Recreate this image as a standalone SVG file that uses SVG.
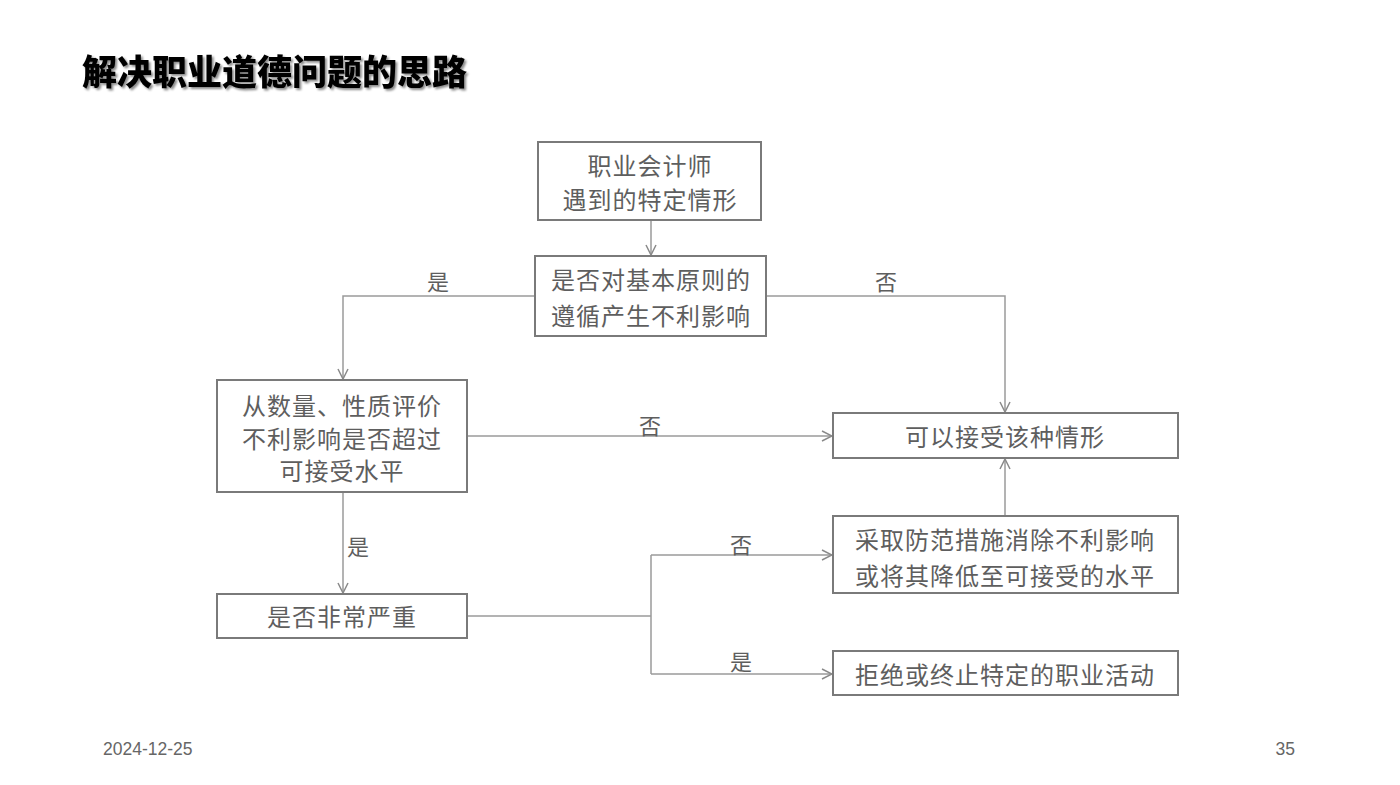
<svg xmlns="http://www.w3.org/2000/svg" width="1400" height="785" viewBox="0 0 1400 785">
<style>
.bx{fill:#fff;stroke:#7a7a7a;stroke-width:2}
.t{font-family:"Noto Sans CJK SC","Noto Sans",sans-serif;font-size:24px;fill:#5e5e5e;text-anchor:middle;dominant-baseline:central;letter-spacing:1px}
.lb{font-family:"Noto Sans CJK SC","Noto Sans",sans-serif;font-size:22px;fill:#5e5e5e;text-anchor:middle;dominant-baseline:central}
.ln{fill:none;stroke:#9a9a9a;stroke-width:1.5}
.title{font-family:"Noto Sans CJK SC","Noto Sans",sans-serif;font-size:35px;font-weight:900;fill:#000}
.ft{font-family:"Liberation Sans",Arial,sans-serif;font-size:17.5px;fill:#666}
</style>
<defs>
<marker id="ar" viewBox="0 0 12 12" refX="11" refY="6" markerWidth="12" markerHeight="12" markerUnits="userSpaceOnUse" orient="auto">
<polyline points="1,1 11,6 1,11" fill="none" stroke="#8a8a8a" stroke-width="1.5"/>
</marker>
<filter id="sh" x="-5%" y="-20%" width="110%" height="140%">
<feDropShadow dx="2" dy="2" stdDeviation="1.2" flood-color="#000" flood-opacity="0.45"/>
</filter>
</defs>
<rect width="1400" height="785" fill="#fff"/>
<text class="title" x="82" y="85" filter="url(#sh)">解决职业道德问题的思路</text>

<g id="connectors">
<line class="ln" x1="651" y1="220" x2="651" y2="255" marker-end="url(#ar)"/>
<polyline class="ln" points="535,296 343,296 343,379" marker-end="url(#ar)"/>
<polyline class="ln" points="766,296 1005,296 1005,412" marker-end="url(#ar)"/>
<line class="ln" x1="467" y1="436" x2="832" y2="436" marker-end="url(#ar)"/>
<line class="ln" x1="343" y1="492" x2="343" y2="593" marker-end="url(#ar)"/>
<polyline class="ln" points="467,616 651,616"/>
<polyline class="ln" points="651,555 651,674"/>
<line class="ln" x1="651" y1="555" x2="832" y2="555" marker-end="url(#ar)"/>
<line class="ln" x1="651" y1="674" x2="832" y2="674" marker-end="url(#ar)"/>
<line class="ln" x1="1005" y1="516" x2="1005" y2="459" marker-end="url(#ar)"/>
<text class="lb" x="438" y="280">是</text>
<text class="lb" x="886" y="280">否</text>
<text class="lb" x="650" y="424">否</text>
<text class="lb" x="358" y="545">是</text>
<text class="lb" x="741" y="543">否</text>
<text class="lb" x="741" y="660">是</text>
</g>

<g id="n1">
<rect class="bx" x="538" y="142" width="223" height="78"/>
<text class="t" x="650" y="164">职业会计师</text>
<text class="t" x="650" y="198">遇到的特定情形</text>
</g>
<g id="n2">
<rect class="bx" x="535" y="256" width="231" height="80"/>
<text class="t" x="651" y="278">是否对基本原则的</text>
<text class="t" x="651" y="314">遵循产生不利影响</text>
</g>
<g id="n3">
<rect class="bx" x="217" y="380" width="250" height="112"/>
<text class="t" x="342" y="404">从数量、性质评价</text>
<text class="t" x="342" y="437">不利影响是否超过</text>
<text class="t" x="342" y="469">可接受水平</text>
</g>
<g id="n4">
<rect class="bx" x="217" y="594" width="250" height="44"/>
<text class="t" x="342" y="615">是否非常严重</text>
</g>
<g id="n5">
<rect class="bx" x="833" y="413" width="345" height="45"/>
<text class="t" x="1005" y="435">可以接受该种情形</text>
</g>
<g id="n6">
<rect class="bx" x="833" y="516" width="345" height="77"/>
<text class="t" x="1005" y="538">采取防范措施消除不利影响</text>
<text class="t" x="1005" y="574">或将其降低至可接受的水平</text>
</g>
<g id="n7">
<rect class="bx" x="833" y="651" width="345" height="44"/>
<text class="t" x="1005" y="673">拒绝或终止特定的职业活动</text>
</g>

<text class="ft" x="103" y="755">2024-12-25</text>
<text class="ft" x="1295" y="755" text-anchor="end">35</text>
</svg>
